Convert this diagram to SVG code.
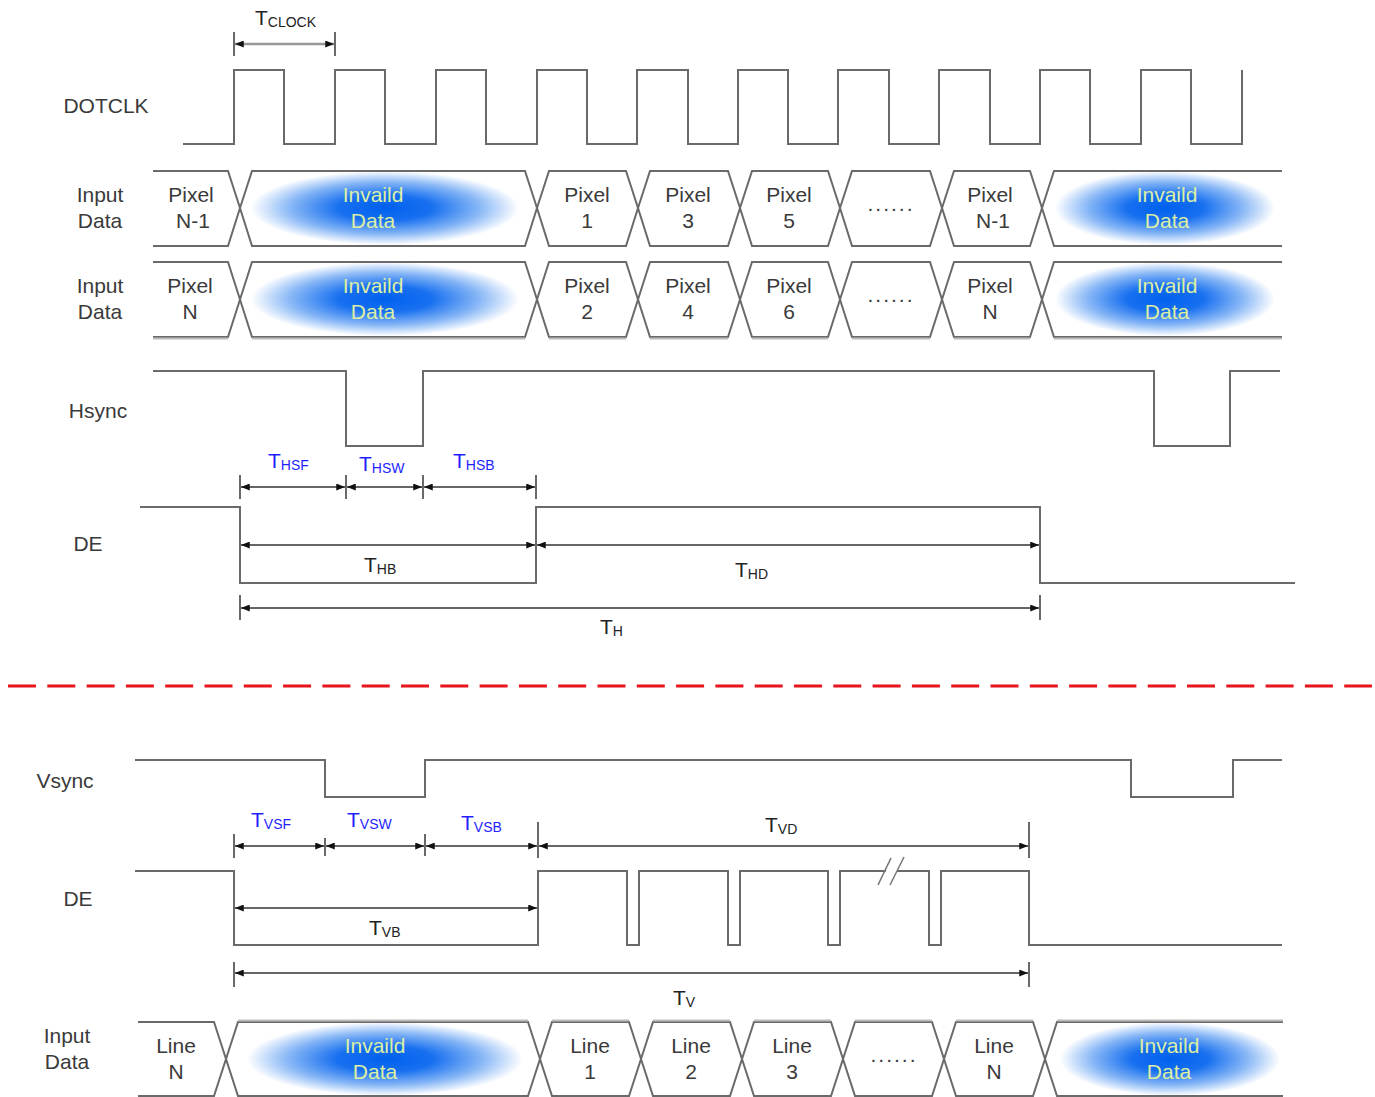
<svg xmlns="http://www.w3.org/2000/svg" width="1375" height="1097" viewBox="0 0 1375 1097">
<style>
.lbl{font-family:"Liberation Sans",Arial,sans-serif;font-size:21px;fill:#3a3a3a;text-anchor:middle}
.inv{font-family:"Liberation Sans",Arial,sans-serif;font-size:21px;fill:#dcefa4;text-anchor:middle}
.dim{font-family:"Liberation Sans",Arial,sans-serif;font-size:21px;fill:#222}
.blue{font-family:"Liberation Sans",Arial,sans-serif;font-size:21px;fill:#1f1fff}
.sub{font-size:14px}
.wave{fill:none;stroke:#6a6a6a;stroke-width:2}
.seg{fill:none;stroke:#6a6a6a;stroke-width:2;stroke-linejoin:miter}
.tick{stroke:#444;stroke-width:1.6}
.arr{stroke:#333;stroke-width:1.6;marker-start:url(#ah);marker-end:url(#ah)}
</style>
<defs>
<marker id="ah" viewBox="0 0 10 8" refX="10" refY="4" markerWidth="9" markerHeight="7" orient="auto-start-reverse" markerUnits="userSpaceOnUse"><path d="M0,0 L10,4 L0,8 z" fill="#111"/></marker>
<radialGradient id="blue" cx="50%" cy="50%" r="50%">
<stop offset="0" stop-color="#0060ee"/>
<stop offset="0.35" stop-color="#1870f0"/>
<stop offset="0.7" stop-color="#86b6f6"/>
<stop offset="1" stop-color="#ffffff"/>
</radialGradient>
</defs>
<rect width="1375" height="1097" fill="#ffffff"/>

<g id="labels">
<text class="lbl" x="106" y="113">DOTCLK</text>
<text class="lbl" x="100" y="202">Input</text><text class="lbl" x="100" y="228">Data</text>
<text class="lbl" x="100" y="293">Input</text><text class="lbl" x="100" y="319">Data</text>
<text class="lbl" x="98" y="418">Hsync</text>
<text class="lbl" x="88" y="551">DE</text>
<text class="lbl" x="65" y="788">Vsync</text>
<text class="lbl" x="78" y="906">DE</text>
<text class="lbl" x="67" y="1043">Input</text><text class="lbl" x="67" y="1069">Data</text>
</g>

<g id="dotclk">
<path class="wave" d="M183,144 H234 V70 H284 V144 H335 V70 H385 V144 H436 V70 H486 V144 H537 V70 H587 V144 H637 V70 H688 V144 H738 V70 H788 V144 H838 V70 H889 V144 H939 V70 H990 V144 H1040 V70 H1090 V144 H1141 V70 H1191 V144 H1242 V70"/>
</g>

<g id="input-data-1">
<ellipse cx="385" cy="208" rx="134" ry="37" fill="url(#blue)"/>
<ellipse cx="1165" cy="208" rx="110" ry="37" fill="url(#blue)"/>
<path class="seg" d="M153,171 H228 L240,208 L228,246 H153"/>
<path class="seg" d="M240,208 L252,171 H525 L537,208 L525,246 H252 Z"/>
<path class="seg" d="M537,208 L549,171 H626 L638,208 L626,246 H549 Z"/>
<path class="seg" d="M638,208 L650,171 H728 L740,208 L728,246 H650 Z"/>
<path class="seg" d="M740,208 L752,171 H828 L840,208 L828,246 H752 Z"/>
<path class="seg" d="M840,208 L852,171 H930 L942,208 L930,246 H852 Z"/>
<path class="seg" d="M942,208 L954,171 H1030 L1042,208 L1030,246 H954 Z"/>
<path class="seg" d="M1282,171 H1054 L1042,208 L1054,246 H1282"/>
<text class="lbl" x="191" y="202">Pixel</text><text class="lbl" x="193" y="228">N-1</text>
<text class="inv" x="373" y="202">Invaild</text><text class="inv" x="373" y="228">Data</text>
<text class="lbl" x="587" y="202">Pixel</text><text class="lbl" x="587" y="228">1</text>
<text class="lbl" x="688" y="202">Pixel</text><text class="lbl" x="688" y="228">3</text>
<text class="lbl" x="789" y="202">Pixel</text><text class="lbl" x="789" y="228">5</text>
<text class="lbl" x="891" y="211" letter-spacing="2">......</text>
<text class="lbl" x="990" y="202">Pixel</text><text class="lbl" x="993" y="228">N-1</text>
<text class="inv" x="1167" y="202">Invaild</text><text class="inv" x="1167" y="228">Data</text>
</g>

<g id="input-data-2">
<ellipse cx="385" cy="299" rx="134" ry="37" fill="url(#blue)"/>
<ellipse cx="1165" cy="299" rx="110" ry="37" fill="url(#blue)"/>
<path class="seg" d="M153,262 H228 L240,299.5 L228,337 H153"/>
<path class="seg" d="M240,299.5 L252,262 H525 L537,299.5 L525,337 H252 Z"/>
<path class="seg" d="M537,299.5 L549,262 H626 L638,299.5 L626,337 H549 Z"/>
<path class="seg" d="M638,299.5 L650,262 H728 L740,299.5 L728,337 H650 Z"/>
<path class="seg" d="M740,299.5 L752,262 H828 L840,299.5 L828,337 H752 Z"/>
<path class="seg" d="M840,299.5 L852,262 H930 L942,299.5 L930,337 H852 Z"/>
<path class="seg" d="M942,299.5 L954,262 H1030 L1042,299.5 L1030,337 H954 Z"/>
<path class="seg" d="M1282,262 H1054 L1042,299.5 L1054,337 H1282"/>
<path d="M153,338.5 H228 M252,338.5 H525 M549,338.5 H626 M650,338.5 H728 M752,338.5 H828 M852,338.5 H930 M954,338.5 H1030 M1054,338.5 H1282" stroke="#bbbbbb" stroke-width="2" fill="none"/>
<text class="lbl" x="190" y="293">Pixel</text><text class="lbl" x="190" y="319">N</text>
<text class="inv" x="373" y="293">Invaild</text><text class="inv" x="373" y="319">Data</text>
<text class="lbl" x="587" y="293">Pixel</text><text class="lbl" x="587" y="319">2</text>
<text class="lbl" x="688" y="293">Pixel</text><text class="lbl" x="688" y="319">4</text>
<text class="lbl" x="789" y="293">Pixel</text><text class="lbl" x="789" y="319">6</text>
<text class="lbl" x="891" y="302" letter-spacing="2">......</text>
<text class="lbl" x="990" y="293">Pixel</text><text class="lbl" x="990" y="319">N</text>
<text class="inv" x="1167" y="293">Invaild</text><text class="inv" x="1167" y="319">Data</text>
</g>

<g id="hsync">
<path class="wave" d="M153,371 H346 V446 H423 V371 H1154 V446 H1230 V371 H1280"/>
</g>

<g id="de-h">
<path class="wave" d="M140,507 H240 V583 H536 V507 H1040 V583 H1295"/>
</g>

<g id="separator">
<line x1="8" y1="686" x2="1372" y2="686" stroke="#e8141c" stroke-width="3" stroke-dasharray="28 11.3"/>
</g>

<g id="vsync">
<path class="wave" d="M135,760 H325 V797 H425 V760 H1131 V797 H1233 V760 H1282"/>
</g>

<g id="de-v">
<path class="wave" d="M135,871 H234 V945 H538 V871 H627 V945 H639 V871 H728 V945 H740 V871 H828 V945 H840 V871 H929 V945 H941 V871 H1029 V945 H1282"/>
<polygon points="880,884 892,858 903,858 891,884" fill="#ffffff"/>
<line x1="878" y1="885" x2="891" y2="858" stroke="#777" stroke-width="1.6"/>
<line x1="890" y1="885" x2="904" y2="857" stroke="#777" stroke-width="1.6"/>
</g>

<g id="input-data-v">
<ellipse cx="385" cy="1059" rx="138" ry="37" fill="url(#blue)"/>
<ellipse cx="1170" cy="1059" rx="110" ry="37" fill="url(#blue)"/>
<path class="seg" d="M138,1022 H214 L226,1059 L214,1096 H138"/>
<path class="seg" d="M226,1059 L238,1022 H528 L540,1059 L528,1096 H238 Z"/>
<path class="seg" d="M540,1059 L552,1022 H629 L641,1059 L629,1096 H552 Z"/>
<path class="seg" d="M641,1059 L653,1022 H730 L742,1059 L730,1096 H653 Z"/>
<path class="seg" d="M742,1059 L754,1022 H831 L843,1059 L831,1096 H754 Z"/>
<path class="seg" d="M843,1059 L855,1022 H932 L944,1059 L932,1096 H855 Z"/>
<path class="seg" d="M944,1059 L956,1022 H1033 L1045,1059 L1033,1096 H956 Z"/>
<path class="seg" d="M1283,1022 H1057 L1045,1059 L1057,1096 H1283"/>
<path d="M238,1020.5 H528 M552,1020.5 H629 M653,1020.5 H730 M754,1020.5 H831 M855,1020.5 H932 M956,1020.5 H1033 M1057,1020.5 H1283" stroke="#bbbbbb" stroke-width="2" fill="none"/>
<text class="lbl" x="176" y="1053">Line</text><text class="lbl" x="176" y="1079">N</text>
<text class="inv" x="375" y="1053">Invaild</text><text class="inv" x="375" y="1079">Data</text>
<text class="lbl" x="590" y="1053">Line</text><text class="lbl" x="590" y="1079">1</text>
<text class="lbl" x="691" y="1053">Line</text><text class="lbl" x="691" y="1079">2</text>
<text class="lbl" x="792" y="1053">Line</text><text class="lbl" x="792" y="1079">3</text>
<text class="lbl" x="894" y="1062" letter-spacing="2">......</text>
<text class="lbl" x="994" y="1053">Line</text><text class="lbl" x="994" y="1079">N</text>
<text class="inv" x="1169" y="1053">Invaild</text><text class="inv" x="1169" y="1079">Data</text>
</g>

<g id="connectors">
<line class="tick" x1="234" y1="32" x2="234" y2="56"/>
<line class="tick" x1="335" y1="32" x2="335" y2="56"/>
<line x1="235" y1="44" x2="334" y2="44" stroke="#999" stroke-width="2.5" marker-start="url(#ah)" marker-end="url(#ah)"/>

<line class="tick" x1="240" y1="475" x2="240" y2="499"/>
<line class="tick" x1="346" y1="475" x2="346" y2="499"/>
<line class="tick" x1="423" y1="475" x2="423" y2="499"/>
<line class="tick" x1="536" y1="475" x2="536" y2="499"/>
<line class="arr" x1="241" y1="487" x2="345" y2="487"/>
<line class="arr" x1="347" y1="487" x2="422" y2="487"/>
<line class="arr" x1="424" y1="487" x2="535" y2="487"/>
<line class="arr" x1="241" y1="545" x2="535" y2="545"/>
<line class="arr" x1="537" y1="545" x2="1039" y2="545"/>
<line class="tick" x1="240" y1="595" x2="240" y2="620"/>
<line class="tick" x1="1040" y1="595" x2="1040" y2="620"/>
<line class="arr" x1="241" y1="608" x2="1039" y2="608"/>

<line class="tick" x1="234" y1="834" x2="234" y2="858"/>
<line class="tick" x1="325" y1="838" x2="325" y2="856"/>
<line class="tick" x1="425" y1="834" x2="425" y2="856"/>
<line class="tick" x1="538" y1="822" x2="538" y2="858"/>
<line class="tick" x1="1029" y1="822" x2="1029" y2="858"/>
<line class="arr" x1="235" y1="846" x2="324" y2="846"/>
<line class="arr" x1="326" y1="846" x2="424" y2="846"/>
<line class="arr" x1="426" y1="846" x2="537" y2="846"/>
<line class="arr" x1="539" y1="846" x2="1028" y2="846"/>
<line class="arr" x1="235" y1="908" x2="537" y2="908"/>
<line class="tick" x1="234" y1="962" x2="234" y2="987"/>
<line class="tick" x1="1029" y1="962" x2="1029" y2="987"/>
<line class="arr" x1="235" y1="973" x2="1028" y2="973"/>
</g>

<g id="dim-labels">
<text class="dim" x="255" y="25">T<tspan class="sub" dy="2">CLOCK</tspan></text>
<text class="blue" x="268" y="468">T<tspan class="sub" dy="2">HSF</tspan></text>
<text class="blue" x="359" y="471">T<tspan class="sub" dy="2">HSW</tspan></text>
<text class="blue" x="453" y="468">T<tspan class="sub" dy="2">HSB</tspan></text>
<text class="dim" x="364" y="572">T<tspan class="sub" dy="2">HB</tspan></text>
<text class="dim" x="735" y="577">T<tspan class="sub" dy="2">HD</tspan></text>
<text class="dim" x="600" y="634">T<tspan class="sub" dy="2">H</tspan></text>
<text class="blue" x="251" y="827">T<tspan class="sub" dy="2">VSF</tspan></text>
<text class="blue" x="347" y="827">T<tspan class="sub" dy="2">VSW</tspan></text>
<text class="blue" x="461" y="830">T<tspan class="sub" dy="2">VSB</tspan></text>
<text class="dim" x="765" y="832">T<tspan class="sub" dy="2">VD</tspan></text>
<text class="dim" x="369" y="935">T<tspan class="sub" dy="2">VB</tspan></text>
<text class="dim" x="673" y="1005">T<tspan class="sub" dy="2">V</tspan></text>
</g>
</svg>
